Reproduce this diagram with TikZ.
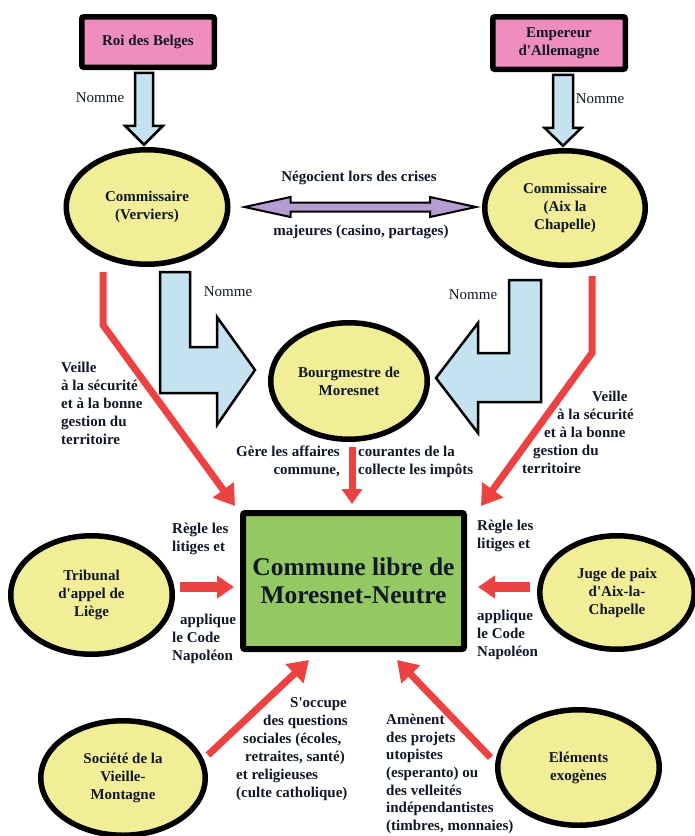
\documentclass[tikz,border=0pt]{standalone}
\usepackage{fontspec}
\setmainfont{Liberation Serif}[Ligatures=TeXOff]
\usetikzlibrary{shapes.geometric,arrows.meta,calc}
\definecolor{pinkc}{HTML}{F08DBF}
\definecolor{yelc}{HTML}{F2EE97}
\definecolor{bluec}{HTML}{C4E2F0}
\definecolor{purc}{HTML}{B79BD3}
\definecolor{redc}{HTML}{EC4242}
\definecolor{greenc}{HTML}{93C862}
\definecolor{txtc}{HTML}{101828}
\begin{document}
\begin{tikzpicture}[x=1pt,y=-1pt,
  every node/.style={font=\bfseries\fontsize{15}{18}\selectfont, align=center, inner sep=0pt, text=txtc},
  rbox/.style={draw, line width=5.5pt, fill=pinkc, rounded corners=2pt, minimum width=132.5pt},
  ell/.style={ellipse, draw, line width=5.5pt, fill=yelc},
  cbox/.style={draw, line width=6pt, fill=greenc, rounded corners=2pt, minimum width=221pt, minimum height=136pt,
               font=\bfseries\fontsize{25.5}{28}\selectfont},
  bluearr/.style={draw, line width=2.5pt, fill=bluec, line join=miter},
  purparr/.style={draw, line width=2pt, fill=purc, line join=miter},
  redarr/.style={draw=redc, line width=7pt, -{Triangle[length=20pt,width=25pt]}},
  redmid/.style={draw=redc, line width=7pt, -{Triangle[length=15pt,width=20pt]}},
  redhor/.style={draw=redc, line width=10pt, -{Triangle[length=17pt,width=22pt]}},
  lbl/.style={align=left},
  nomme/.style={font=\fontsize{15}{18}\selectfont}
]
\useasboundingbox[fill=white] (0,0) rectangle (695,836);

% nodes
\node[rbox, minimum height=50.5pt] (roi) at (148,42) {Roi des Belges};
\node[rbox, minimum height=52.5pt] (emp) at (559,43) {Empereur\\d'Allemagne};
\node[ell, minimum width=161.5pt, minimum height=114.5pt] (comV) at (147,207) {Commissaire\\(Verviers)};
\node[ell, minimum width=160.5pt, minimum height=114.5pt] (comA) at (565,208) {Commissaire\\(Aix la\\Chapelle)};
\node[ell, minimum width=156.5pt, minimum height=116.5pt] (bourg) at (349,381) {Bourgmestre de\\Moresnet};
\node[cbox] (commune) at (353.5,581) {Commune libre de\\Moresnet-Neutre};
\node[ell, minimum width=161.5pt, minimum height=118.5pt] (trib) at (91.5,595) {Tribunal\\d'appel de\\Liège};
\node[ell, minimum width=154.5pt, minimum height=113.5pt] (juge) at (617,592.5) {Juge de paix\\d'Aix-la-\\Chapelle};
\node[ell, minimum width=164.5pt, minimum height=114.5pt] (soc) at (123,778) {Société de la\\Vieille-\\Montagne};
\node[ell, minimum width=161.5pt, minimum height=115.5pt] (elem) at (578.5,767.5) {Eléments\\exogènes};

% blue "Nomme" arrows from the rulers
\coordinate (n1) at ($(roi.south)+(-4,2.75)$);
\draw[bluearr] ($(n1)+(-9,0)$) -- ++(0,53) -- ++(-10,0) -- ++(19,19) -- ++(19,-19) -- ++(-10,0) -- ++(0,-53) -- cycle;
\coordinate (n2) at ($(emp.south)+(4,2.75)$);
\draw[bluearr] ($(n2)+(-10,0)$) -- ++(0,53) -- ++(-8.5,0) -- ++(18.5,18) -- ++(18.5,-18) -- ++(-8.5,0) -- ++(0,-53) -- cycle;

% bent blue arrows to the Bourgmestre
\coordinate (t1) at ($(bourg.west)+(-13,-11)$);
\draw[bluearr] ($(t1)+(-95,-98)$) -- ($(t1)+(-65,-98)$) -- ($(t1)+(-65,-23)$) -- ($(t1)+(-38,-23)$)
  -- ($(t1)+(-38,-53)$) -- (t1) -- ($(t1)+(-38,55)$) -- ($(t1)+(-38,23)$) -- ($(t1)+(-95,23)$) -- cycle;
\coordinate (t2) at ($(bourg.east)+(6,-3)$);
\draw[bluearr] ($(t2)+(105,-98)$) -- ($(t2)+(105,24)$) -- ($(t2)+(42,24)$) -- ($(t2)+(42,55)$)
  -- (t2) -- ($(t2)+(42,-55)$) -- ($(t2)+(42,-25)$) -- ($(t2)+(73,-25)$) -- ($(t2)+(73,-98)$) -- cycle;

% purple double arrow
\coordinate (p1) at ($(comV.east)+(14,0)$);
\coordinate (p2) at ($(comA.west)+(-6,-1)$);
\draw[purparr] (p1) -- ($(p1)+(46,-10)$) -- ($(p1)+(46,-4.5)$) -- ($(p2)+(-46,-4.5)$) -- ($(p2)+(-46,-10)$)
  -- (p2) -- ($(p2)+(-46,10)$) -- ($(p2)+(-46,4.5)$) -- ($(p1)+(46,4.5)$) -- ($(p1)+(46,10)$) -- cycle;

% red arrows
\draw[redarr] ($(comV.south)+(-44,5)$) -- ++(0,53) -- ($(commune.north west)+(-5,-4)$);
\draw[redarr] ($(comA.south)+(27,8)$) -- ++(0,77) -- ($(commune.north east)+(14,-4)$);
\draw[redmid] ($(bourg.south)+(3,5)$) -- ($(commune.north)+(-1.5,-6)$);
\draw[redhor] ($(trib.east)+(5,-8)$) -- ($(commune.west)+(-6,6)$);
\draw[redhor] ($(juge.west)+(-7,-5.5)$) -- ($(commune.east)+(11,6)$);
\draw[redarr] ($(soc.center)+(85,-23)$) -- ($(commune.south)+(-44.5,8)$);
\draw[redarr] ($(elem.center)+(-88,-10)$) -- ($(commune.south)+(43.5,8)$);

% labels
\node[nomme] (nm1) at (100,98) {Nomme};
\node[nomme] (nm2) at (600,99) {Nomme};
\node[nomme] (nm3) at (228,292) {Nomme};
\node[nomme] (nm4) at (473,295) {Nomme};
\node (neg1) at (359,178) {Négocient lors des crises};
\node (neg2) at (361,232) {majeures (casino, partages)};

\node[lbl, anchor=north west] (veilleL) at (61,362) {Veille\\à la sécurité\\et à la bonne\\gestion du\\territoire};
\node[lbl, anchor=north west] (veilleR) at (522,391) {\hspace*{70pt}Veille\\\hspace*{35pt}à la sécurité\\\hspace*{22pt}et à la bonne\\\hspace*{11pt}gestion du\\territoire};

\node[align=right, anchor=north east] (gere1) at (340,446) {Gère les affaires\\commune,};
\node[lbl, anchor=north west] (gere2) at (358,446) {courantes de la\\collecte les impôts};

\node[lbl, anchor=north west] (regL) at (172,523) {Règle les\\litiges et};
\node[lbl, anchor=north west] (appL) at (172,614) {\hspace*{8pt}applique\\le Code\\Napoléon};
\node[lbl, anchor=north west] (regR) at (477,520) {Règle les\\litiges et};
\node[lbl, anchor=north west] (appR) at (477,610) {applique\\le Code\\Napoléon};

\node[lbl, anchor=north west] (socl) at (236,697) {\hspace*{54pt}S'occupe\\\hspace*{27pt}des questions\\\hspace*{7pt}sociales (écoles,\\\hspace*{9pt}retraites, santé)\\et religieuses\\(culte catholique)};
\node[lbl, anchor=north west, font=\bfseries\fontsize{15}{17.6}\selectfont] (elel) at (386,714) {Amènent\\des projets\\utopistes\\(esperanto) ou\\des velleités\\indépendantistes\\(timbres, monnaies)};
\end{tikzpicture}
\end{document}
